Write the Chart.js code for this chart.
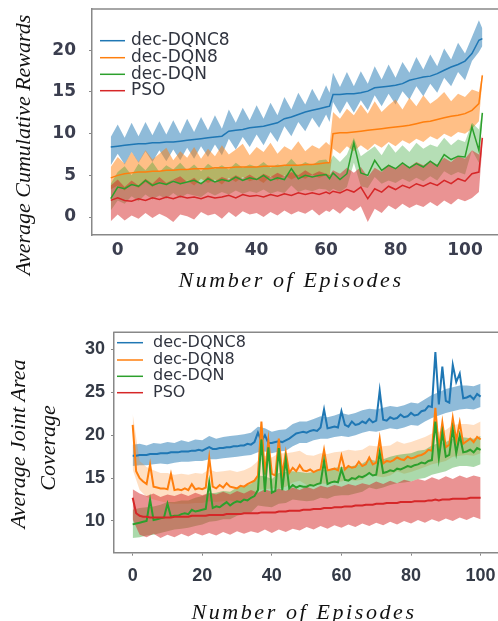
<!DOCTYPE html>
<html><head><meta charset="utf-8">
<script src="https://cdn.jsdelivr.net/npm/chart.js@4.4.1/dist/chart.umd.min.js"></script>
<style>
html,body{margin:0;padding:0;background:#fff;width:498px;height:621px;overflow:hidden;}
#c1{position:absolute;left:0;top:0;}
#c2{position:absolute;left:0;top:300px;}
</style></head><body>
<canvas id="c1" width="498" height="300"></canvas>
<canvas id="c2" width="498" height="321"></canvas>
<script>
const SERIES = ['dec-DQNC8','dec-DQN8','dec-DQN','PSO'];
const COLORS = ['#1f77b4','#ff7f0e','#2ca02c','#d62728'];
const X_TITLE = 'Number of Episodes';
const Y_TITLE_TOP = 'Average Cumulative Rewards';
const Y_TITLE_BOTTOM = ['Average Joint Area','Coverage'];

// ---------- Top chart: average cumulative rewards ----------
const TOP_EPISODES = [-2,0,2,4,6,8,10,12,14,16,18,20,22,24,26,28,30,32,34,36,38,40,42,44,46,48,50,52,54,56,58,60,61,62,64,66,68,70,72,74,76,78,80,82,84,86,88,90,92,94,96,98,100,102,104,105];
const TOP_DQNC8 = [8.4,8.5,8.6,8.7,8.8,8.8,8.9,8.9,9.0,9.0,9.1,9.2,9.3,9.4,9.5,9.6,9.7,10.3,10.4,10.5,10.7,10.8,10.9,11.1,11.3,11.8,12.0,12.3,12.6,12.8,13.0,13.2,13.3,14.7,14.7,14.8,14.8,14.9,15.1,15.5,15.6,15.7,15.8,16.0,16.4,16.6,16.8,16.9,17.2,17.6,18.0,18.3,18.7,19.6,21.2,21.4];
const TOP_DQNC8_HI = [9.6,11.1,9.5,11.3,9.7,11.4,9.8,11.5,9.9,11.6,10.0,11.8,10.2,12.0,10.4,12.2,10.6,12.9,11.3,13.1,11.6,13.4,11.8,13.7,12.2,14.4,12.9,14.9,13.5,15.4,13.9,15.8,14.9,17.3,15.6,17.4,15.7,17.5,16.0,18.1,16.5,18.3,16.7,18.6,17.3,19.2,17.7,19.5,18.1,20.2,18.9,20.9,19.6,21.6,23.6,22.6];
const TOP_DQNC8_LO = [6.2,7.6,6.3,7.8,6.5,7.9,6.6,8.0,6.7,8.1,6.8,8.3,7.0,8.5,7.2,8.7,7.4,9.4,8.1,9.6,8.4,9.9,8.6,10.2,9.0,10.9,9.7,11.4,10.3,11.9,10.7,12.3,11.4,13.8,12.4,13.9,12.5,14.0,12.8,14.6,13.3,14.8,13.5,15.1,14.1,15.7,14.5,16.0,14.9,16.7,15.7,17.4,16.4,18.7,19.8,20.5];
const TOP_DQN8 = [4.7,5.0,5.2,5.3,5.4,5.4,5.5,5.5,5.6,5.6,5.7,5.7,5.8,5.8,5.8,5.9,5.9,5.9,6.0,6.0,6.0,6.0,6.1,6.1,6.1,6.2,6.2,6.2,6.3,6.3,6.4,6.5,6.5,10.0,10.1,10.1,10.2,10.3,10.4,10.5,10.6,10.7,10.8,10.9,11.0,11.2,11.4,11.5,11.7,11.9,12.1,12.2,12.4,12.8,13.6,17.0];
const TOP_DQN8_HI = [6.0,7.2,6.4,7.8,6.6,8.0,6.9,7.6,8.3,6.8,7.9,7.1,8.4,7.0,8.2,7.3,8.6,7.5,8.1,8.8,7.4,8.4,7.8,8.9,7.6,8.5,8.0,9.1,7.9,8.6,8.2,9.0,8.6,12.6,11.8,13.0,12.2,13.5,12.4,13.9,12.6,13.4,14.1,12.9,14.3,13.3,14.6,13.6,14.2,15.0,13.9,14.8,14.4,15.3,15.0,17.3];
const TOP_DQN8_LO = [3.3,3.8,3.2,4.0,3.5,4.2,3.6,4.3,3.8,4.5,3.9,4.4,3.8,4.6,4.1,4.5,3.9,4.7,4.2,4.8,4.3,4.6,4.1,4.9,4.4,5.0,4.5,4.9,4.6,5.1,4.7,5.0,4.8,8.2,7.6,8.5,7.9,8.6,8.0,8.8,8.3,9.0,8.5,9.2,8.8,9.4,9.0,9.7,9.3,10.0,9.6,10.2,10.0,10.6,11.5,16.5];
const TOP_DQN = [2.2,3.6,3.4,3.9,3.7,4.4,3.8,4.1,3.9,4.3,4.0,4.2,4.4,4.0,4.6,4.2,4.5,4.3,4.8,4.4,4.7,4.5,5.0,4.4,4.7,4.5,5.8,4.6,5.0,4.8,5.0,5.1,4.6,5.3,4.5,5.2,8.9,5.3,5.0,6.8,5.6,6.2,5.8,6.5,5.9,6.4,6.0,6.7,6.1,7.5,6.9,7.3,7.2,10.8,8.0,12.5];
const TOP_DQN_HI = [4.0,5.4,6.1,5.0,6.4,5.6,6.6,5.4,6.2,5.7,6.5,5.6,6.3,5.5,6.4,5.8,6.2,5.7,6.5,5.9,6.3,6.0,6.6,5.9,6.3,6.1,7.0,6.1,6.6,6.2,6.8,6.9,6.4,7.4,6.6,7.5,9.5,7.3,7.9,8.5,7.4,8.8,7.7,8.6,7.8,8.9,8.2,8.7,8.4,9.5,8.6,9.3,9.0,11.3,10.5,12.8];
const TOP_DQN_LO = [0.8,2.0,1.6,2.5,1.9,2.7,2.1,2.6,2.2,2.9,2.3,2.8,2.6,2.4,3.0,2.6,3.0,2.7,3.2,2.8,3.1,2.9,3.3,2.8,3.1,2.9,3.8,3.0,3.3,3.1,3.4,3.3,3.0,3.4,3.0,3.6,6.5,3.7,3.5,4.8,4.0,4.4,4.1,4.6,4.2,4.7,4.3,4.9,4.4,5.5,5.0,5.4,5.1,8.0,6.5,11.8];
const TOP_PSO = [2.0,2.3,2.0,1.9,2.2,2.0,2.3,2.1,2.4,2.2,2.5,2.3,2.4,2.2,2.5,2.3,2.4,2.6,2.3,2.7,2.5,2.6,2.4,2.7,2.5,2.8,2.6,2.9,2.7,2.9,2.7,3.0,2.8,3.1,2.9,3.3,3.0,3.6,2.2,3.4,3.0,3.7,3.3,3.8,3.5,4.0,3.7,4.1,3.8,4.4,4.0,4.6,4.3,5.2,5.4,9.5];
const TOP_PSO_HI = [3.8,4.5,3.6,4.4,3.8,4.6,4.0,4.8,4.1,4.5,4.9,4.2,4.7,4.0,4.9,4.3,4.8,4.5,5.0,4.6,5.1,4.6,5.2,4.8,5.3,4.9,5.4,5.0,5.6,5.1,5.5,5.2,5.0,5.6,5.2,5.9,5.3,6.0,4.8,5.9,5.4,6.3,5.8,6.4,6.0,6.6,6.2,6.7,6.3,7.1,6.6,7.3,7.0,8.0,7.5,10.0];
const TOP_PSO_LO = [-0.5,0.3,-0.4,0.2,-0.2,0.5,-0.1,0.4,0.0,-0.6,0.3,0.1,-0.3,0.6,0.2,0.4,-0.2,0.6,0.0,0.7,0.3,0.5,0.0,0.6,0.2,0.8,0.3,0.7,0.4,0.9,0.2,0.8,0.6,1.0,0.4,1.2,0.7,1.3,-0.6,1.0,0.5,1.4,0.9,1.6,1.1,1.5,1.2,1.8,1.3,2.0,1.5,2.2,1.9,2.3,3.0,8.5];
const TOP_Y_TICKS = [0,5,10,15,20];
const TOP_X_TICKS = [0,20,40,60,80,100];

// ---------- Bottom chart: average joint area coverage ----------
const BOT_EPISODES = Array.from({length:101},(_,i)=>i);       // episodes 0..100
const BOT_BAND_EPISODES = Array.from({length:51},(_,i)=>i*2); // band samples 0,2,..,100
const BOT_DQNC8 = [17.6,17.6,17.7,17.7,17.7,17.8,17.8,17.8,17.9,17.9,17.9,18.0,18.0,18.0,18.1,18.1,18.1,18.2,18.2,18.3,18.2,18.4,18.6,18.4,18.4,18.5,18.5,18.6,18.6,18.7,18.7,18.8,18.8,19.0,18.9,19.2,20.3,19.3,20.0,19.1,19.1,19.2,19.3,19.2,19.4,19.6,19.9,20.2,20.3,20.4,20.3,20.5,20.6,20.5,20.9,23.0,20.8,20.9,21.0,20.9,22.8,21.2,21.0,21.6,21.2,21.3,21.6,21.4,21.9,21.5,21.7,25.2,21.8,21.7,22.1,21.9,22.0,22.4,22.1,22.2,22.6,22.3,22.4,22.8,22.9,23.4,23.3,29.7,23.6,28.0,24.0,23.8,28.2,26.2,27.2,24.3,24.4,24.6,24.2,24.8,24.5];
const BOT_DQN8 = [21.2,15.8,15.0,14.6,14.3,16.6,14.0,13.9,13.8,13.8,13.7,15.5,13.6,13.7,13.6,13.8,13.6,14.3,13.7,13.8,13.7,13.9,17.4,14.0,13.8,14.2,13.9,14.4,14.0,13.9,13.8,14.1,14.0,14.3,14.5,14.7,15.3,21.6,15.4,19.4,15.5,15.3,19.6,15.4,18.0,15.6,16.2,15.8,16.5,15.9,15.8,16.0,15.7,15.9,16.0,18.3,15.9,16.0,16.1,15.9,17.6,16.0,16.4,16.2,16.3,16.9,16.4,16.6,17.4,16.6,16.8,19.6,16.7,17.0,16.9,17.1,17.4,17.2,17.1,17.5,17.3,17.4,17.6,17.7,17.9,18.3,18.2,23.2,18.4,21.5,18.6,18.9,22.0,19.4,21.5,19.0,19.3,19.6,19.2,19.8,19.5];
const BOT_DQN = [9.6,9.7,9.8,9.9,10.0,12.5,10.1,10.2,10.3,10.4,12.0,10.5,10.6,10.6,10.8,10.9,10.8,11.3,11.1,11.2,11.3,11.4,14.5,11.5,11.7,11.6,11.9,12.2,11.8,12.1,12.3,12.2,12.5,12.4,12.7,12.9,13.6,19.5,13.4,18.6,13.3,13.5,18.5,13.6,17.2,13.8,14.2,13.9,14.1,14.0,14.0,14.2,14.1,14.3,14.4,17.0,14.3,14.5,14.6,14.5,16.0,14.8,14.7,15.0,14.9,15.2,15.1,15.3,15.6,15.3,15.4,18.0,15.6,15.7,15.9,15.8,16.1,16.0,16.2,16.4,16.3,16.5,16.6,16.8,16.7,17.0,17.1,21.6,17.3,20.3,17.5,17.7,20.7,17.9,20.0,18.0,18.1,18.3,18.0,18.5,18.3];
const BOT_PSO = [12.7,10.9,10.6,10.5,10.5,10.4,10.4,10.4,10.4,10.4,10.4,10.4,10.5,10.5,10.5,10.5,10.5,10.6,10.6,10.6,10.6,10.6,10.7,10.7,10.7,10.7,10.7,10.8,10.8,10.8,10.8,10.8,10.9,10.9,10.9,10.9,10.9,11.0,11.0,11.0,11.0,11.0,11.1,11.1,11.1,11.2,11.2,11.2,11.2,11.3,11.3,11.3,11.4,11.4,11.4,11.5,11.5,11.5,11.6,11.6,11.6,11.7,11.7,11.7,11.8,11.8,11.8,11.9,11.9,11.9,12.0,12.0,12.0,12.1,12.1,12.1,12.1,12.2,12.2,12.2,12.2,12.3,12.3,12.3,12.3,12.4,12.4,12.5,12.4,12.5,12.5,12.5,12.6,12.6,12.6,12.6,12.6,12.7,12.7,12.7,12.7];
const BOT_DQNC8_HI = [18.9,19.0,18.8,19.1,19.0,19.2,19.1,19.4,19.2,19.5,19.4,19.9,19.6,19.8,19.9,20.0,20.1,20.3,21.0,20.8,20.4,20.6,20.7,21.3,21.6,21.6,21.9,22.2,22.1,22.3,22.6,22.4,22.6,22.9,23.1,23.0,23.2,23.4,23.3,23.5,23.8,23.7,24.2,24.7,25.0,25.4,25.6,25.8,25.8,25.7,26.0];
const BOT_DQNC8_LO = [16.4,16.5,16.5,16.6,16.7,16.6,16.8,16.9,16.9,17.0,17.0,17.2,17.2,17.3,17.4,17.5,17.6,17.7,18.0,18.1,17.9,18.1,18.2,18.7,19.1,19.1,19.4,19.6,19.6,19.8,19.9,19.8,20.0,20.3,20.5,20.4,20.6,20.8,20.7,20.9,21.2,21.1,21.6,22.0,22.3,22.6,22.8,23.0,23.1,23.0,23.3];
const BOT_DQN8_HI = [22.5,17.0,16.3,15.9,15.6,15.6,15.4,15.5,15.4,15.6,15.5,16.0,15.7,15.8,15.9,15.7,15.9,16.3,17.0,17.6,17.4,17.9,17.9,18.0,18.2,17.7,17.6,17.9,17.8,18.0,18.1,18.3,18.2,18.3,18.8,18.7,18.7,18.8,19.3,19.0,19.2,19.5,19.8,20.2,20.4,20.6,21.2,21.3,21.3,21.2,21.6];
const BOT_DQN8_LO = [16.0,13.6,12.8,12.5,12.3,12.1,12.0,12.0,12.0,12.1,12.1,12.3,12.2,12.3,12.4,12.2,12.4,12.9,13.6,13.7,13.8,13.8,14.0,14.5,14.7,14.2,14.1,14.4,14.3,14.5,14.6,14.8,14.7,14.8,15.5,15.2,15.1,15.3,15.8,15.5,15.7,16.0,16.3,16.6,16.8,17.0,17.5,17.6,17.7,17.6,17.9];
const BOT_DQN_HI = [11.3,11.5,11.6,11.7,11.9,12.2,12.2,12.4,12.4,12.7,12.9,13.2,13.3,13.5,13.4,13.9,14.1,14.3,15.3,15.2,14.9,15.6,15.7,15.8,15.7,15.6,15.7,16.0,15.9,16.2,16.3,16.3,16.5,16.7,17.2,17.0,17.2,17.5,17.7,17.8,17.9,18.2,18.3,18.8,19.1,19.2,19.6,19.8,19.7,19.6,19.9];
const BOT_DQN_LO = [8.0,8.1,8.3,8.4,8.6,8.8,9.0,9.1,9.2,9.4,9.6,9.9,10.0,10.2,10.2,10.6,10.8,11.0,11.8,11.7,11.6,12.0,12.1,12.5,12.4,12.3,12.4,12.7,12.6,12.9,13.0,13.0,13.2,13.4,13.9,13.7,13.9,14.2,14.4,14.5,14.6,14.9,15.0,15.4,15.6,15.8,16.2,16.4,16.4,16.3,16.6];
const BOT_PSO_HI = [13.7,13.2,12.9,13.2,12.8,13.1,12.9,13.2,12.9,13.3,13.0,13.3,13.1,13.4,13.1,13.5,13.2,13.6,13.3,13.7,13.4,13.8,13.5,13.9,13.6,14.0,13.7,14.1,13.9,14.2,14.0,14.3,14.1,14.4,14.2,14.6,14.3,14.7,14.4,14.8,14.6,14.9,14.7,15.1,14.8,15.2,14.9,15.3,15.0,15.3,15.1];
const BOT_PSO_LO = [10.2,8.4,8.1,8.5,8.0,8.4,8.1,8.5,8.2,8.6,8.3,8.6,8.3,8.7,8.4,8.8,8.5,8.8,8.6,9.0,8.6,9.0,8.7,9.1,8.9,9.3,9.0,9.4,9.1,9.5,9.2,9.6,9.3,9.7,9.4,9.8,9.5,9.9,9.6,10.0,9.7,10.1,9.8,10.2,9.9,10.3,10.0,10.4,10.1,10.5,10.2];
const BOT_Y_TICKS = [10,15,20,25,30];
const BOT_X_TICKS = [0,20,40,60,80,100];

// ---------- helpers ----------
function rgba(hex,a){const n=parseInt(hex.slice(1),16);return 'rgba('+(n>>16)+','+((n>>8)&255)+','+(n&255)+','+a+')';}
function pts(xs,ys){return xs.map((x,i)=>({x:x,y:ys[i]}));}

function buildDatasets(xm, means, xb, his, los, alphas, lw){
  const ds=[];
  for(let k=0;k<4;k++){
    ds.push({label:SERIES[k]+' upper', data:pts(xb,his[k]), borderWidth:0, borderColor:'transparent',
      pointRadius:0, fill:'+1', backgroundColor:rgba(COLORS[k],alphas[k]), order:100-k});
    ds.push({label:SERIES[k]+' lower', data:pts(xb,los[k]), borderWidth:0, borderColor:'transparent',
      pointRadius:0, fill:false, backgroundColor:'transparent', order:100-k});
  }
  for(let k=0;k<4;k++){
    ds.push({label:SERIES[k], data:pts(xm,means[k]), borderColor:COLORS[k], borderWidth:lw,
      pointRadius:0, fill:false, order:50-k});
  }
  return ds;
}

function decor(o){
  return {id:'decor', afterDraw(chart){
    const ctx=chart.ctx, a=chart.chartArea;
    ctx.save();
    ctx.strokeStyle='#888'; ctx.lineWidth=1.5;
    ctx.beginPath(); ctx.moveTo(a.left-0.75,a.top); ctx.lineTo(a.right,a.top); ctx.stroke();
    ctx.font=o.legFont; ctx.textAlign='left'; ctx.textBaseline='middle'; ctx.fillStyle='#30343f';
    SERIES.forEach((n,k)=>{
      const y=o.legY[k];
      ctx.strokeStyle=COLORS[k]; ctx.lineWidth=1.5;
      ctx.beginPath(); ctx.moveTo(o.legX0,y); ctx.lineTo(o.legX1,y); ctx.stroke();
      ctx.fillText(n,o.legTX,y);
    });
    ctx.fillStyle='#111'; ctx.font=o.titleFont; ctx.textAlign='center'; ctx.textBaseline='alphabetic';
    ctx.letterSpacing=o.xSpacing+'px';
    ctx.fillText(X_TITLE,o.xTitle[0],o.xTitle[1]);
    ctx.letterSpacing='0px';
    o.yTitles.forEach(t=>{
      ctx.save(); ctx.translate(t.x,t.y); ctx.rotate(-Math.PI/2);
      ctx.fillText(t.text,0,0); ctx.restore();
    });
    ctx.restore();
  }};
}

function makeChart(id, cfg){
  return new Chart(document.getElementById(id), {
    type:'line',
    data:{datasets:cfg.datasets},
    options:{
      responsive:false, animation:false, devicePixelRatio:1,
      layout:{padding:{top:cfg.top,left:0,right:0,bottom:0}},
      plugins:{legend:{display:false}, tooltip:{enabled:false}},
      scales:{
        x:{type:'linear', min:cfg.xmin, max:cfg.xmax,
          afterFit(s){s.height=cfg.xh; s.paddingLeft=0; s.paddingRight=0;},
          afterBuildTicks(s){s.ticks=cfg.xticks.map(v=>({value:v}));},
          ticks:{font:cfg.tickFont, color:cfg.tickColor, padding:cfg.xpad, maxRotation:0},
          grid:{drawOnChartArea:false, drawTicks:cfg.xTickMarks, tickLength:3, tickColor:'#888'},
          border:{display:true, color:'#888', width:1.5}},
        y:{type:'linear', min:cfg.ymin, max:cfg.ymax,
          afterFit(s){s.width=cfg.yw; s.paddingTop=0; s.paddingBottom=0;},
          afterBuildTicks(s){s.ticks=cfg.yticks.map(v=>({value:v}));},
          ticks:{font:cfg.tickFont, color:cfg.tickColor, padding:cfg.ypad},
          grid:{drawOnChartArea:false, drawTicks:true, tickLength:3, tickColor:'#888'},
          border:{display:true, color:'#888', width:1.5}}
      }
    },
    plugins:[decor(cfg.decor)]
  });
}

makeChart('c1', {
  datasets: buildDatasets(TOP_EPISODES,[TOP_DQNC8,TOP_DQN8,TOP_DQN,TOP_PSO],
    TOP_EPISODES,[TOP_DQNC8_HI,TOP_DQN8_HI,TOP_DQN_HI,TOP_PSO_HI],
    [TOP_DQNC8_LO,TOP_DQN8_LO,TOP_DQN_LO,TOP_PSO_LO],[0.5,0.5,0.35,0.5],1.5),
  top:9, xh:65, yw:92, xmin:-7.4, xmax:109.5, ymin:-2.15, ymax:24.95,
  xticks:TOP_X_TICKS, yticks:TOP_Y_TICKS,
  tickFont:{family:'DejaVu Sans', size:17, weight:'bold'}, tickColor:'#3b3e4f',
  xpad:5, ypad:13, xTickMarks:false,
  decor:{legFont:'17px "DejaVu Sans"', legX0:100, legX1:125, legTX:131, legY:[40.7,57.7,74.3,90.7],
    titleFont:'italic 22px "Liberation Serif"', xSpacing:2.6, xTitle:[291,286.5],
    yTitles:[{text:Y_TITLE_TOP, x:30, y:145}]}
});

makeChart('c2', {
  datasets: buildDatasets(BOT_EPISODES,[BOT_DQNC8,BOT_DQN8,BOT_DQN,BOT_PSO],
    BOT_BAND_EPISODES,[BOT_DQNC8_HI,BOT_DQN8_HI,BOT_DQN_HI,BOT_PSO_HI],
    [BOT_DQNC8_LO,BOT_DQN8_LO,BOT_DQN_LO,BOT_PSO_LO],[0.5,0.25,0.4,0.5],2),
  top:32.3, xh:68.3, yw:114, xmin:-5.37, xmax:105, ymin:6.3, ymax:32,
  xticks:BOT_X_TICKS, yticks:BOT_Y_TICKS,
  tickFont:{family:'Liberation Sans', size:18, weight:'bold'}, tickColor:'#343a46',
  xpad:9.5, ypad:6, xTickMarks:true,
  decor:{legFont:'16px "DejaVu Sans"', legX0:117, legX1:143, legTX:153, legY:[42.7,60,76.3,92.7],
    titleFont:'italic 22px "Liberation Serif"', xSpacing:2.6, xTitle:[304,318.5],
    yTitles:[{text:Y_TITLE_BOTTOM[0], x:25, y:144},{text:Y_TITLE_BOTTOM[1], x:55, y:148}]}
});
</script>
</body></html>
